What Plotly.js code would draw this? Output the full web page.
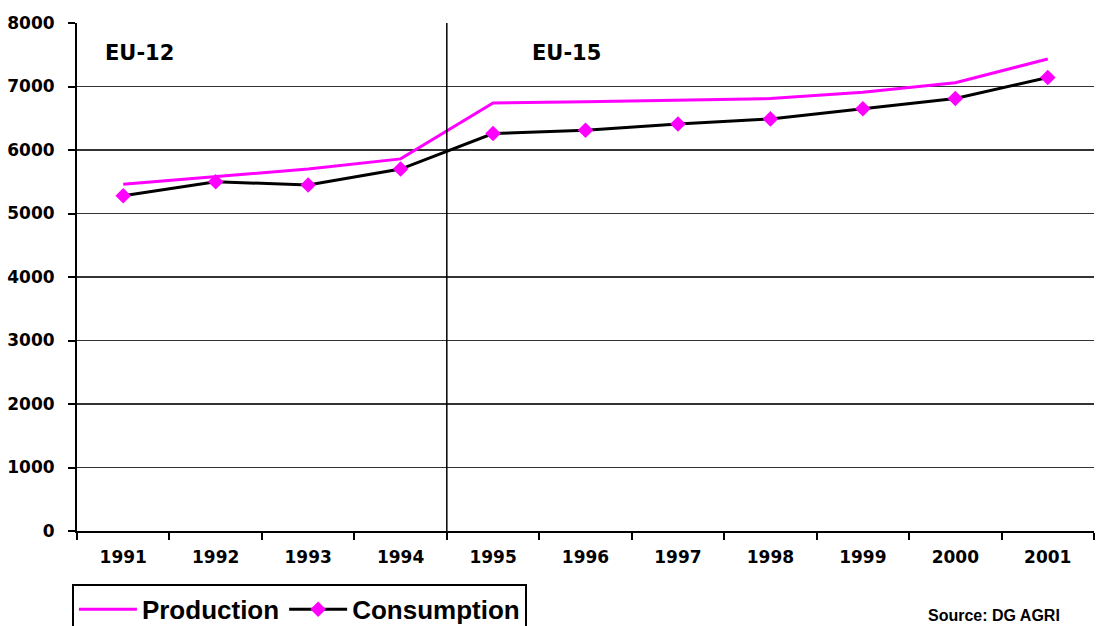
<!DOCTYPE html>
<html>
<head>
<meta charset="utf-8">
<script src="https://cdn.plot.ly/plotly-3.0.1.min.js"></script>
<style>
html,body{margin:0;padding:0;background:#fff;}
#chart{width:1097px;height:626px;}
</style>
</head>
<body>
<div id="chart"></div>
<script>
const years = ['1991','1992','1993','1994','1995','1996','1997','1998','1999','2000','2001'];
const production = [5460, 5580, 5700, 5860, 6740, 6760, 6790, 6810, 6910, 7060, 7434];
const consumption = [5280, 5500, 5450, 5700, 6260, 6310, 6410, 6490, 6650, 6810, 7142];
const yTicks = [0, 1000, 2000, 3000, 4000, 5000, 6000, 7000, 8000];
const periodLabels = ['EU-12', 'EU-15'];
const seriesNames = ['Production', 'Consumption'];
const sourceText = 'Source: DG AGRI';

const tickFont = {family: 'DejaVu Sans', size: 17, weight: 'bold', color: '#000'};
const last = years.length - 1;

const traces = [
  {
    x: years, y: production, name: seriesNames[0], type: 'scatter', mode: 'lines',
    line: {color: '#FF00FF', width: 3}
  },
  {
    x: years, y: consumption, name: seriesNames[1], type: 'scatter', mode: 'lines+markers',
    line: {color: '#000000', width: 3},
    marker: {symbol: 'diamond', color: '#FF00FF', size: 12}
  }
];

const layout = {
  width: 1097, height: 626,
  margin: {l: 77, r: 3, t: 23, b: 95, autoexpand: false},
  paper_bgcolor: '#fff', plot_bgcolor: '#fff',
  showlegend: true,
  legend: {
    orientation: 'h', x: -0.005, xanchor: 'left', y: -0.104, yanchor: 'top',
    bordercolor: '#000', borderwidth: 2, bgcolor: '#fff',
    font: {family: 'Liberation Sans', size: 26, weight: 'bold', color: '#000'},
    itemwidth: 58, tracegroupgap: 0
  },
  xaxis: {
    type: 'category', range: [-0.5, 10.5], fixedrange: true,
    showline: true, linecolor: '#000', linewidth: 2,
    ticks: 'outside', tickson: 'boundaries', ticklen: 7, tickwidth: 2, tickcolor: '#000',
    showgrid: false, tickfont: tickFont, ticklabelstandoff: 10
  },
  yaxis: {
    range: [0, 8000], tickvals: yTicks, ticktext: yTicks.map(String), fixedrange: true,
    showline: true, linecolor: '#000', linewidth: 2,
    ticks: 'outside', ticklen: 7, tickwidth: 2, tickcolor: '#000',
    showgrid: true, gridcolor: '#333', gridwidth: 1.8, zeroline: false,
    tickfont: tickFont, ticklabelstandoff: 10
  },
  shapes: [
    {type: 'line', xref: 'x', yref: 'y', x0: 3.5, x1: 3.5, y0: yTicks[0], y1: yTicks[yTicks.length - 1],
     line: {color: '#000', width: 1.5}}
  ],
  annotations: [
    {text: periodLabels[0], xref: 'paper', yref: 'paper', x: 0.0256, y: 0.941, xanchor: 'left', yanchor: 'middle',
     showarrow: false, font: {family: 'DejaVu Sans', size: 21, weight: 'bold', color: '#000'}},
    {text: periodLabels[1], xref: 'paper', yref: 'paper', x: 0.445, y: 0.941, xanchor: 'left', yanchor: 'middle',
     showarrow: false, font: {family: 'DejaVu Sans', size: 21, weight: 'bold', color: '#000'}},
    {text: String(production[last]), xref: 'x', yref: 'y', x: years[last], y: production[last], yshift: 18,
     xanchor: 'center', yanchor: 'middle', showarrow: false, font: tickFont},
    {text: String(consumption[last]), xref: 'x', yref: 'y', x: years[last], y: consumption[last], yshift: -36,
     xanchor: 'center', yanchor: 'middle', showarrow: false, font: tickFont},
    {text: sourceText, xref: 'paper', yref: 'paper', x: 0.835, y: -0.145, xanchor: 'left', yanchor: 'top',
     showarrow: false, font: {family: 'Liberation Sans', size: 16, weight: 'bold', color: '#000'}}
  ]
};

Plotly.newPlot('chart', traces, layout, {displayModeBar: false, staticPlot: true});
</script>
</body>
</html>
